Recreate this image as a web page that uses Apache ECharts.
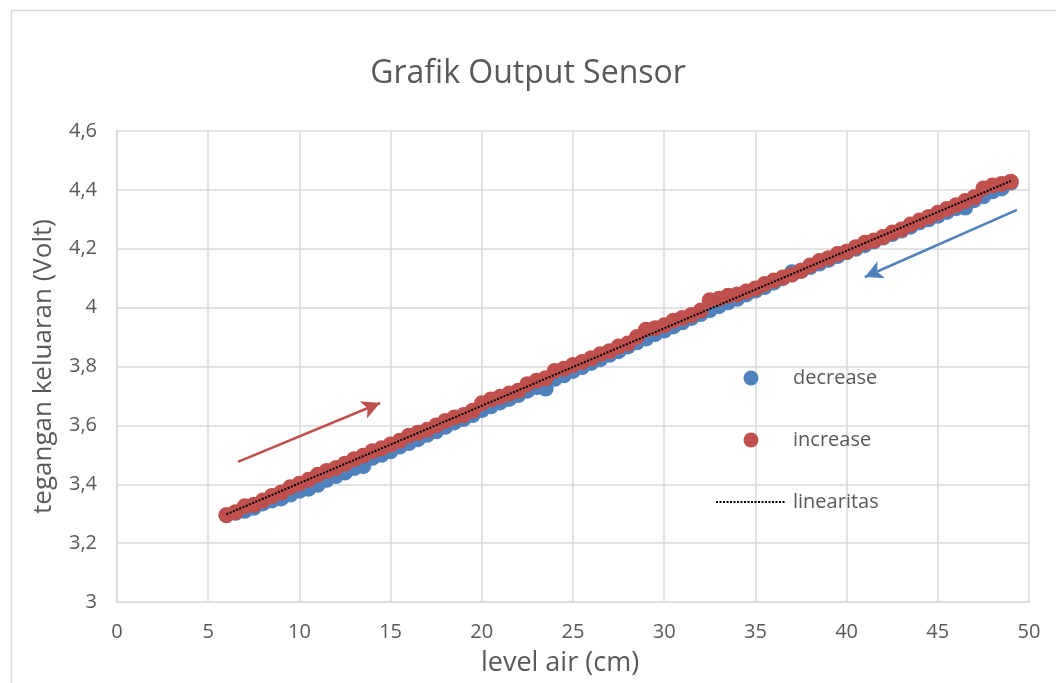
<!DOCTYPE html>
<html>
<head>
<meta charset="utf-8">
<script src="https://cdn.jsdelivr.net/npm/echarts@6/dist/echarts.min.js"></script>
<style>
  html, body { margin: 0; padding: 0; background: #fff; }
  #chart { width: 1056px; height: 683px; }
</style>
</head>
<body>
<div id="chart"></div>
<script>
// level air (cm)
var level = [6, 6.5, 7, 7.5, 8, 8.5, 9, 9.5, 10, 10.5, 11, 11.5, 12, 12.5, 13, 13.5, 14, 14.5,
  15, 15.5, 16, 16.5, 17, 17.5, 18, 18.5, 19, 19.5, 20, 20.5, 21, 21.5, 22, 22.5, 23, 23.5,
  24, 24.5, 25, 25.5, 26, 26.5, 27, 27.5, 28, 28.5, 29, 29.5, 30, 30.5, 31, 31.5, 32, 32.5,
  33, 33.5, 34, 34.5, 35, 35.5, 36, 36.5, 37, 37.5, 38, 38.5, 39, 39.5, 40, 40.5, 41, 41.5,
  42, 42.5, 43, 43.5, 44, 44.5, 45, 45.5, 46, 46.5, 47, 47.5, 48, 48.5, 49];

// tegangan (Volt)
var decrease = [3.295, 3.303, 3.310, 3.320, 3.335, 3.345, 3.352, 3.365, 3.378, 3.385, 3.398, 3.415,
  3.428, 3.440, 3.455, 3.462, 3.490, 3.500, 3.512, 3.528, 3.540, 3.553, 3.568, 3.580, 3.595, 3.610,
  3.622, 3.635, 3.652, 3.665, 3.678, 3.690, 3.703, 3.718, 3.730, 3.725, 3.758, 3.770, 3.785, 3.798,
  3.812, 3.825, 3.840, 3.852, 3.868, 3.882, 3.895, 3.910, 3.922, 3.936, 3.950, 3.965, 3.978, 3.992,
  4.005, 4.018, 4.030, 4.045, 4.058, 4.070, 4.085, 4.100, 4.120, 4.125, 4.138, 4.150, 4.162, 4.175,
  4.188, 4.200, 4.212, 4.225, 4.238, 4.250, 4.262, 4.275, 4.290, 4.300, 4.312, 4.325, 4.338, 4.340,
  4.365, 4.378, 4.395, 4.405, 4.425];

var increase = [3.295, 3.305, 3.325, 3.330, 3.345, 3.360, 3.372, 3.390, 3.402, 3.415, 3.432, 3.445,
  3.455, 3.470, 3.485, 3.497, 3.512, 3.522, 3.535, 3.548, 3.565, 3.575, 3.585, 3.600, 3.615, 3.627,
  3.635, 3.650, 3.675, 3.688, 3.697, 3.708, 3.718, 3.740, 3.752, 3.760, 3.785, 3.792, 3.805, 3.815,
  3.828, 3.842, 3.852, 3.868, 3.878, 3.900, 3.925, 3.930, 3.940, 3.955, 3.965, 3.975, 3.990, 4.025,
  4.030, 4.040, 4.045, 4.055, 4.065, 4.080, 4.092, 4.102, 4.112, 4.125, 4.143, 4.158, 4.168, 4.182,
  4.190, 4.205, 4.220, 4.228, 4.240, 4.255, 4.265, 4.282, 4.296, 4.308, 4.322, 4.335, 4.348, 4.362,
  4.375, 4.405, 4.415, 4.420, 4.428];

// garis linearitas
var trendLevel = [6, 49];
var trendVolt = [3.298, 4.430];

// panah arah (level, volt)
var redArrow = [[6.63, 3.476], [14.42, 3.676]];
var blueArrow = [[49.34, 4.332], [41.0, 4.104]];

var FONT = 'Open Sans';
var GRAY = '#595959';
var BLUE = '#4F81BD';
var RED = '#C0504D';

function pairs(xs, ys) {
    return xs.map(function (x, i) { return [x, ys[i]]; });
}

var chart = echarts.init(document.getElementById('chart'));

var option = {
    backgroundColor: '#fff',
    animation: false,
    textStyle: { fontFamily: FONT },
    graphic: [{
        type: 'rect',
        left: 9, top: 8,
        shape: { width: 1200, height: 800 },
        style: { fill: 'none', stroke: '#D9D9D9', lineWidth: 1.5 },
        silent: true
    }],
    title: {
        text: 'Grafik Output Sensor',
        left: 'center',
        top: 53,
        textStyle: { fontFamily: FONT, fontSize: 32, fontWeight: 'normal', color: GRAY }
    },
    legend: {
        orient: 'vertical',
        left: 710,
        top: 363,
        itemWidth: 70,
        itemHeight: 15,
        itemGap: 42,
        data: [
            'decrease',
            'increase',
            { name: 'linearitas', itemStyle: { opacity: 0 } }
        ],
        textStyle: { fontFamily: FONT, fontSize: 20, color: GRAY, padding: [0, 0, 0, 2] }
    },
    grid: { left: 117, right: 27, top: 131, bottom: 81 },
    xAxis: {
        type: 'value',
        min: 0, max: 50, interval: 5,
        name: 'level air (cm)',
        nameLocation: 'middle',
        nameGap: 48,
        nameTextStyle: { fontFamily: FONT, fontSize: 27, color: GRAY, padding: [0, 26, 0, 0] },
        axisLine: { show: true, lineStyle: { color: '#D9D9D9', width: 1.5 } },
        axisTick: { show: false },
        axisLabel: { margin: 20, fontFamily: FONT, fontSize: 20, color: GRAY },
        splitLine: { show: true, lineStyle: { color: '#D9D9D9', width: 1.5 } }
    },
    yAxis: {
        type: 'value',
        min: 3, max: 4.6, interval: 0.2,
        name: 'tegangan keluaran (Volt)',
        nameLocation: 'middle',
        nameGap: 60,
        nameTextStyle: { fontFamily: FONT, fontSize: 26, color: GRAY },
        axisLine: { show: true, lineStyle: { color: '#D9D9D9', width: 1.5 } },
        axisTick: { show: false },
        axisLabel: {
            margin: 20, fontFamily: FONT, fontSize: 20, color: GRAY,
            formatter: function (v) { return String(+v.toFixed(1)).replace('.', ','); }
        },
        splitLine: { show: true, lineStyle: { color: '#D9D9D9', width: 1.5 } }
    },
    series: [
        {
            name: 'decrease',
            type: 'scatter',
            symbol: 'circle',
            symbolSize: 16,
            itemStyle: { color: BLUE, opacity: 1 },
            data: pairs(level, decrease),
            markLine: {
                silent: true,
                symbol: ['none', 'arrow'],
                symbolSize: [14, 18],
                label: { show: false },
                lineStyle: { color: BLUE, width: 2.5, type: 'solid' },
                data: [[{ coord: blueArrow[0] }, { coord: blueArrow[1] }]]
            }
        },
        {
            name: 'increase',
            type: 'scatter',
            symbol: 'circle',
            symbolSize: 16,
            itemStyle: { color: RED, opacity: 1 },
            data: pairs(level, increase),
            markLine: {
                silent: true,
                symbol: ['none', 'arrow'],
                symbolSize: [14, 18],
                label: { show: false },
                lineStyle: { color: RED, width: 2.5, type: 'solid' },
                data: [[{ coord: redArrow[0] }, { coord: redArrow[1] }]]
            }
        },
        {
            name: 'linearitas',
            type: 'line',
            symbol: 'none',
            showSymbol: false,
            color: '#000',
            lineStyle: { color: '#000', width: 2, type: [2, 1.5] },
            data: pairs(trendLevel, trendVolt),
            z: 5
        }
    ]
};

chart.setOption(option);
</script>
</body>
</html>
